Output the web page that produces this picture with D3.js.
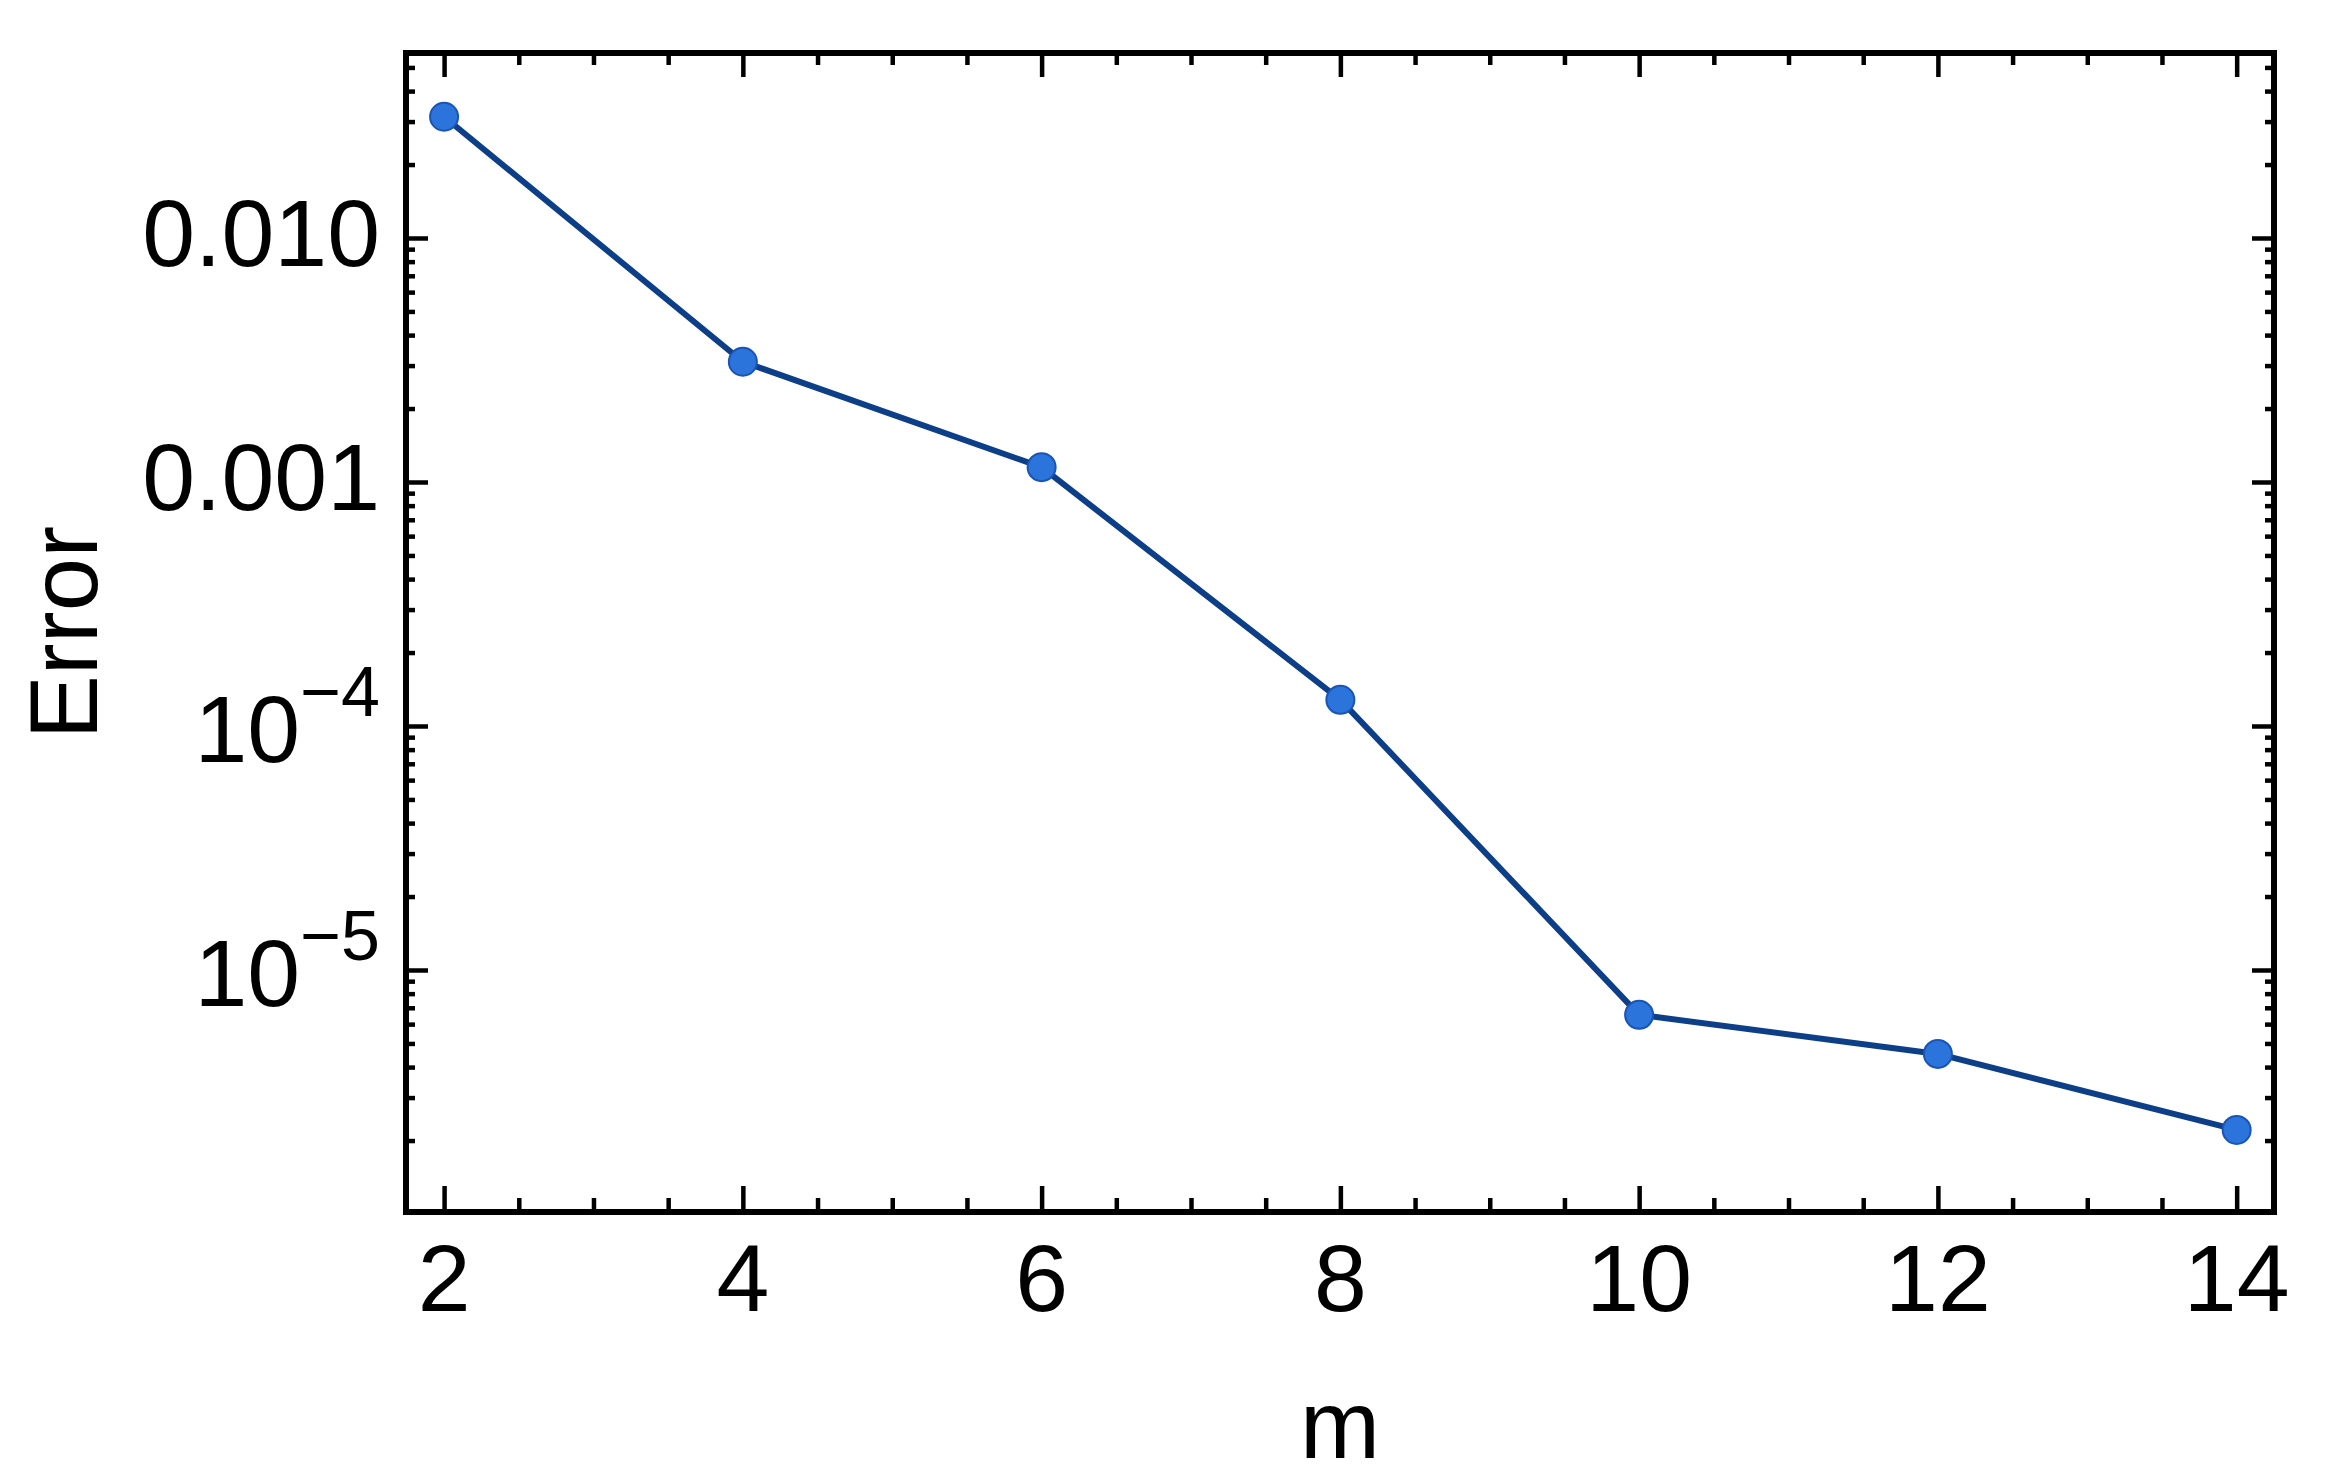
<!DOCTYPE html>
<html><head><meta charset="utf-8">
<script src="https://cdn.jsdelivr.net/npm/d3@7"></script>
<style>body{margin:0;background:#fff}</style>
</head><body>
<svg id="chart" width="2331" height="1479"></svg>
<script>
// ---- data ----
const mValues = [2, 4, 6, 8, 10, 12, 14];
const errorValues = [0.0314, 0.00311, 0.00115, 1.28e-4, 6.55e-6, 4.53e-6, 2.21e-6];
const xTickValues = [2, 4, 6, 8, 10, 12, 14];
const xTickLabels = ["2", "4", "6", "8", "10", "12", "14"];
const yTickValues = [0.01, 0.001, 1e-4, 1e-5];
const yTickBase = ["0.010", "0.001", "10", "10"];
const yTickExp = ["", "", "\u22124", "\u22125"];
const xLabel = "m";
const yLabel = "Error";

// ---- layout ----
const L = 406, R = 2274, T = 53, B = 1212;
const FONT = "'Liberation Sans', Arial, Helvetica, sans-serif";
const svg = d3.select("#chart");
svg.append("rect").attr("width", 2331).attr("height", 1479).attr("fill", "#fff");

const x = d3.scaleLinear().domain([1.745, 14.25]).range([L, R]);
const y = d3.scaleLog().domain([1.019e-6, 0.0573]).range([B, T]);

const xMinor = d3.range(2, 14.01, 0.5).filter(v => !xTickValues.includes(v));
const yMinor = [];
for (let e = -6; e <= -2; e++) for (let k = 2; k <= 9; k++) {
  const v = k * Math.pow(10, e);
  const [d0, d1] = y.domain();
  if (v > d0 && v < d1) yMinor.push(v);
}

function addAxis(axis, transform) {
  const g = svg.append("g").attr("transform", transform).call(axis);
  g.select(".domain").remove();
  g.selectAll("text").remove();
  g.selectAll("line").attr("stroke", "#000").attr("stroke-width", 4.5);
}
addAxis(d3.axisBottom(x).tickValues(xTickValues).tickSize(-26), `translate(0,${B})`);
addAxis(d3.axisBottom(x).tickValues(xMinor).tickSize(-14), `translate(0,${B})`);
addAxis(d3.axisTop(x).tickValues(xTickValues).tickSize(-24), `translate(0,${T})`);
addAxis(d3.axisTop(x).tickValues(xMinor).tickSize(-12), `translate(0,${T})`);
addAxis(d3.axisLeft(y).tickValues(yTickValues).tickSize(-22), `translate(${L},0)`);
addAxis(d3.axisLeft(y).tickValues(yMinor).tickSize(-9), `translate(${L},0)`);
addAxis(d3.axisRight(y).tickValues(yTickValues).tickSize(-22), `translate(${R},0)`);
addAxis(d3.axisRight(y).tickValues(yMinor).tickSize(-9), `translate(${R},0)`);

// frame
svg.append("rect").attr("x", L).attr("y", T).attr("width", R - L).attr("height", B - T)
  .attr("fill", "none").attr("stroke", "#000").attr("stroke-width", 6);

// line + markers
const line = d3.line().x((d, i) => x(mValues[i])).y(d => y(d));
svg.append("path").datum(errorValues).attr("d", line)
  .attr("fill", "none").attr("stroke", "#0d3f88").attr("stroke-width", 6).attr("stroke-linejoin", "round");
svg.selectAll("circle.pt").data(errorValues).join("circle").attr("class", "pt")
  .attr("cx", (d, i) => x(mValues[i])).attr("cy", d => y(d)).attr("r", 14)
  .attr("fill", "#2b74dc").attr("stroke", "#1a55b5").attr("stroke-width", 2);

// x tick labels
svg.selectAll("text.xt").data(xTickValues).join("text").attr("class", "xt")
  .attr("x", d => x(d)).attr("y", 1311).attr("text-anchor", "middle")
  .attr("font-family", FONT).attr("font-size", 95).attr("fill", "#000")
  .text((d, i) => xTickLabels[i]);

// y tick labels
yTickValues.forEach((v, i) => {
  const hasExp = yTickExp[i] !== "";
  const t = svg.append("text").attr("x", 380).attr("y", y(v) + (hasExp ? 36 : 28))
    .attr("text-anchor", "end").attr("font-family", FONT).attr("font-size", 95).attr("fill", "#000");
  t.append("tspan").text(yTickBase[i]);
  if (hasExp) t.append("tspan").attr("dy", -46).attr("font-size", 70).text(yTickExp[i]);
});

// axis labels
svg.append("text").attr("x", (L + R) / 2).attr("y", 1458).attr("text-anchor", "middle")
  .attr("font-family", FONT).attr("font-size", 96).attr("fill", "#000").text(xLabel);
svg.append("text").attr("transform", `translate(97,${(T + B) / 2}) rotate(-90)`).attr("text-anchor", "middle")
  .attr("font-family", FONT).attr("font-size", 96).attr("fill", "#000").text(yLabel);
</script>
</body></html>
